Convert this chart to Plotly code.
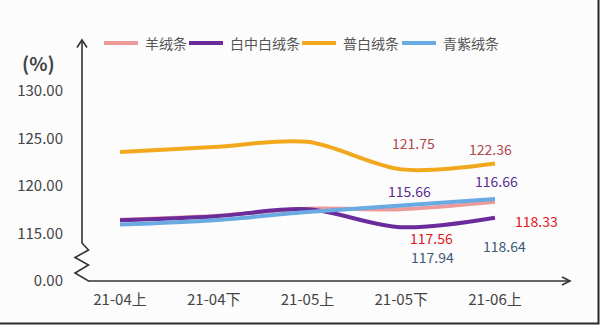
import plotly.graph_objects as go

# Half-month periods (上 = first half, 下 = second half)
periods = ["21-04上", "21-04下", "21-05上", "21-05下", "21-06上"]

# Price index (%) per product
yang_rong = [116.45, 116.85, 117.60, 117.56, 118.33]      # 羊绒条
bai_zhong_bai = [116.39, 116.80, 117.55, 115.66, 116.66]  # 白中白绒条
pu_bai = [123.58, 124.10, 124.65, 121.75, 122.36]         # 普白绒条
qing_zi = [115.94, 116.40, 117.26, 117.94, 118.64]        # 青紫绒条

# Axis break: the bottom tick stands for 0, the rest are real values
tick_vals = [110, 115, 120, 125, 130]
tick_text = ["0.00", "115.00", "120.00", "125.00", "130.00"]

series = [
    ("羊绒条", yang_rong, "#EC9A9A"),
    ("白中白绒条", bai_zhong_bai, "#6A2C9A"),
    ("普白绒条", pu_bai, "#F2A81C"),
    ("青紫绒条", qing_zi, "#6AAAE3"),
]

FONT = "Noto Sans CJK SC"
x_idx = list(range(len(periods)))

fig = go.Figure()
for name, vals, color in series:
    fig.add_trace(go.Scatter(
        x=x_idx, y=vals, name=name, mode="lines",
        line=dict(color=color, width=4, shape="spline", smoothing=0.9),
        hoverinfo="skip", showlegend=False,
    ))

# Value labels for the last two periods: (series, period index, text colour, x/y shift in px)
labels = [
    (pu_bai, 3, "#B04848", 12, 26),
    (pu_bai, 4, "#B04848", -5, 15),
    (bai_zhong_bai, 3, "#5B2C8F", 8, 36),
    (bai_zhong_bai, 4, "#5B2C8F", 1, 37),
    (yang_rong, 3, "#E3141E", 30, -29),
    (yang_rong, 4, "#E3141E", 41, -19),
    (qing_zi, 3, "#3D5A78", 31, -51),
    (qing_zi, 4, "#3D5A78", 9, -47),
]
for vals, i, color, dx, dy in labels:
    fig.add_annotation(
        x=i, y=vals[i], text=f"{vals[i]:.2f}", showarrow=False,
        xshift=dx, yshift=dy, font=dict(family=FONT, size=14, color=color),
    )

# Plot-area geometry in pixels, used for the hand-drawn axes and legend
L, T, W, H = 82, 40, 488, 241


def px(x):
    return (x - L) / W


def py(y):
    return (T + H - y) / H


axis_color = "#333333"
# y axis with arrow, zigzag break, then x axis with arrow
axis_path = (
    f"M{px(82)},{py(40)} L{px(82)},{py(243)} L{px(88.5)},{py(250)} "
    f"L{px(75)},{py(257.5)} L{px(88.5)},{py(265)} L{px(75)},{py(273)} "
    f"L{px(88.5)},{py(281)} L{px(570)},{py(281)}"
)
shapes = [
    dict(type="path", xref="paper", yref="paper", path=axis_path,
         line=dict(color=axis_color, width=1.6)),
    dict(type="path", xref="paper", yref="paper",
         path=f"M{px(77)},{py(47.5)} L{px(82)},{py(40)} L{px(87)},{py(47.5)}",
         line=dict(color=axis_color, width=1.6)),
    dict(type="path", xref="paper", yref="paper",
         path=f"M{px(562)},{py(277)} L{px(570)},{py(281)} L{px(562)},{py(285)}",
         line=dict(color=axis_color, width=1.6)),
    # frame on the right and bottom edges
    dict(type="path", xref="paper", yref="paper",
         path=f"M{px(598.5)},{py(0)} L{px(598.5)},{py(323.5)} L{px(0)},{py(323.5)}",
         line=dict(color="#2a2a2a", width=2)),
]

# Legend row: swatch line followed by its name
legend_x = [104, 189, 302, 402]
for (name, _, color), lx in zip(series, legend_x):
    shapes.append(dict(
        type="line", xref="paper", yref="paper",
        x0=px(lx), x1=px(lx + 34), y0=py(43), y1=py(43),
        line=dict(color=color, width=4),
    ))
    fig.add_annotation(
        x=px(lx + 39), y=py(43), xref="paper", yref="paper", text=name,
        showarrow=False, xanchor="left", yanchor="middle",
        font=dict(family=FONT, size=14, color="#555555"),
    )

fig.add_annotation(
    x=px(38), y=py(62), xref="paper", yref="paper", text="<b>(%)</b>",
    showarrow=False, xanchor="center", yanchor="middle",
    font=dict(family=FONT, size=19, color="#444444"),
)

fig.update_layout(
    width=600, height=325, autosize=False,
    margin=dict(l=L, r=600 - L - W, t=T, b=325 - T - H, pad=0),
    paper_bgcolor="#FCFCFD", plot_bgcolor="rgba(0,0,0,0)",
    showlegend=False,
    xaxis=dict(
        range=[(L - 120) / 93.75, (L + W - 120) / 93.75],
        tickvals=x_idx, ticktext=periods, showgrid=False, zeroline=False,
        showline=False, ticks="", ticklabelstandoff=8,
        tickfont=dict(family=FONT, size=15, color="#444444"),
    ),
    yaxis=dict(
        range=[110, 110 + H / 9.5], tickvals=tick_vals, ticktext=tick_text,
        showgrid=False, zeroline=False, showline=False, ticks="",
        ticklabelstandoff=18,
        tickfont=dict(family=FONT, size=15, color="#444444"),
    ),
    shapes=shapes,
)

fig.write_html("out.html")
